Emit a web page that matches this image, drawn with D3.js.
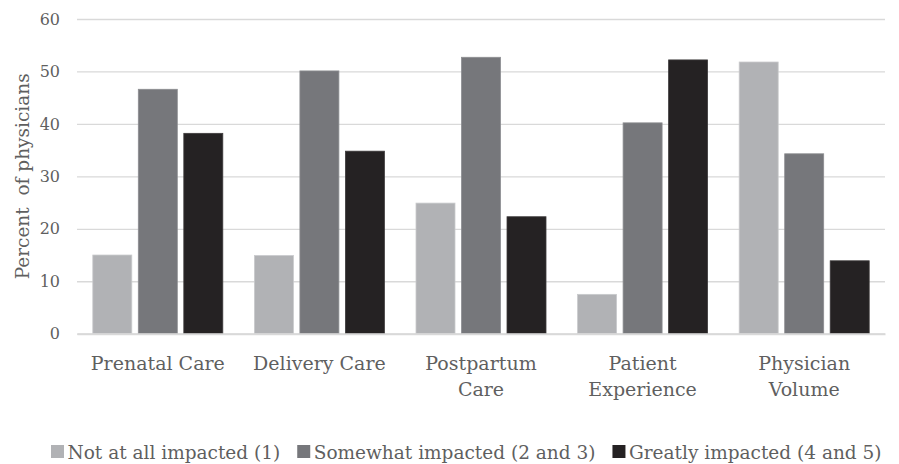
<!DOCTYPE html>
<html>
<head>
<meta charset="utf-8">
<script src="https://cdn.jsdelivr.net/npm/d3@7/dist/d3.min.js"></script>
<style>
  html, body { margin: 0; padding: 0; background: #fff; }
  svg { display: block; }
  text { font-family: "DejaVu Serif", "Liberation Serif", serif; fill: #5f5f5f; }
</style>
</head>
<body>
<svg id="chart" width="899" height="464"></svg>
<script>
const categories = [["Prenatal Care"], ["Delivery Care"], ["Postpartum", "Care"], ["Patient", "Experience"], ["Physician", "Volume"]];
const seriesNames = ["Not at all impacted (1)", "Somewhat impacted (2 and 3)", "Greatly impacted (4 and 5)"];
const notAtAll   = [15.0, 14.9, 24.9, 7.5, 51.8];
const somewhat   = [46.6, 50.1, 52.7, 40.2, 34.3];
const greatly    = [38.2, 34.8, 22.3, 52.2, 13.9];
const yTicks = [0, 10, 20, 30, 40, 50, 60];
const colors = ["#b1b2b5", "#76777b", "#252223"];
const strokes = ["#c9cacc", "#8d8e91", "#3e3b3c"];

const series = [notAtAll, somewhat, greatly];
const svg = d3.select("#chart");
const plotBottom = 333.7, plotTop = 19, plotLeft = 77, plotRight = 885;

const x0 = d3.scaleBand().domain(d3.range(categories.length)).range([plotLeft, plotRight]).paddingInner(0.1955).paddingOuter(0.0978);
const x1 = d3.scaleBand().domain(d3.range(series.length)).range([0, x0.bandwidth()]).paddingInner(0.143).paddingOuter(0);
const y = d3.scaleLinear().domain([0, 60]).range([plotBottom, plotTop]);

// gridlines
const yAxis = d3.axisLeft(y).tickValues(yTicks).tickSize(-(plotRight - plotLeft)).tickPadding(17).tickFormat(d3.format("d"));
const gy = svg.append("g").attr("transform", `translate(${plotLeft},0)`).call(yAxis);
gy.select(".domain").remove();
gy.selectAll(".tick line").attr("stroke", "#d9d9d9").attr("stroke-width", 1.3);
gy.selectAll(".tick text").attr("font-size", 16).attr("fill", "#5f5f5f").style("font-family", '"DejaVu Serif", serif');

// bars
const groups = svg.append("g").selectAll("g").data(categories).join("g")
  .attr("transform", (d, i) => `translate(${x0(i)},0)`);
groups.selectAll("rect").data((d, i) => series.map((s, k) => ({ k, v: s[i] }))).join("rect")
  .attr("x", d => x1(d.k))
  .attr("y", d => y(d.v))
  .attr("width", x1.bandwidth())
  .attr("height", d => y(0) - y(d.v))
  .attr("fill", d => colors[d.k])
  .attr("stroke", d => strokes[d.k])
  .attr("stroke-width", 0.8);

// x axis baseline
const xAxis = d3.axisBottom(x0).tickSize(0).tickFormat("");
const gx = svg.append("g").attr("transform", `translate(0,${plotBottom})`).call(xAxis);
gx.select(".domain").attr("stroke", "#d9d9d9").attr("stroke-width", 2);
gx.selectAll(".tick").each(function(d) {
  const t = d3.select(this).append("text").attr("text-anchor", "middle").attr("font-size", 19).attr("fill", "#5f5f5f");
  categories[d].forEach((line, j) => {
    t.append("tspan").attr("x", 0).attr("y", 36.5 + j * 26).text(line);
  });
});

// y axis title
svg.append("text")
  .attr("transform", `translate(29,${(plotTop + plotBottom) / 2}) rotate(-90)`)
  .attr("text-anchor", "middle")
  .attr("font-size", 18.5)
  .attr("xml:space", "preserve")
  .style("white-space", "pre")
  .text("Percent  of physicians");

// legend
const legend = svg.append("g").attr("transform", "translate(51,0)");
let lx = 0;
seriesNames.forEach((name, k) => {
  const g = legend.append("g").attr("transform", `translate(${lx},0)`);
  g.append("rect").attr("x", 0).attr("y", 445).attr("width", 13).attr("height", 13).attr("fill", colors[k]);
  const t = g.append("text").attr("x", 16.5).attr("y", 459).attr("font-size", 18.5).text(name);
  lx += 16.5 + t.node().getComputedTextLength() + 17;
});
</script>
</body>
</html>
